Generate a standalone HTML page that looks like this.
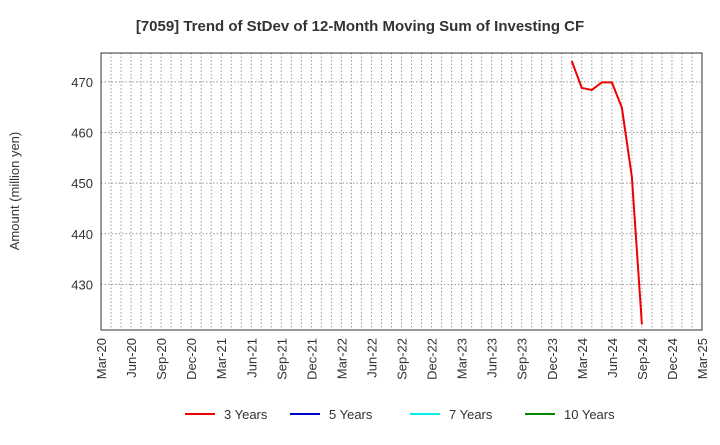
<!DOCTYPE html>
<html><head><meta charset="utf-8"><style>
body{margin:0;background:#fff;font-family:"Liberation Sans",Arial,sans-serif}
</style></head><body>
<svg width="720" height="440" xmlns="http://www.w3.org/2000/svg" style="font-family:'Liberation Sans',Arial,sans-serif">
<text x="360" y="31" text-anchor="middle" font-size="15" font-weight="bold" fill="#333">[7059]  Trend of StDev of 12-Month Moving Sum of Investing CF</text>
<text transform="translate(19,191) rotate(-90)" text-anchor="middle" font-size="13" fill="#333">Amount (million yen)</text>
<g id="grid"></g>
<g id="axes"></g>
<g id="series"></g>
<g id="legend"></g>
</svg>
<script>
const xLabels=["Mar-20","Jun-20","Sep-20","Dec-20","Mar-21","Jun-21","Sep-21","Dec-21","Mar-22","Jun-22","Sep-22","Dec-22","Mar-23","Jun-23","Sep-23","Dec-23","Mar-24","Jun-24","Sep-24","Dec-24","Mar-25"];
const yTicks=[430,440,450,460,470];
const months3=[47,48,49,50,51,52,53,54]; // month index from Mar-20
const values3=[474.1,468.8,468.4,469.9,469.9,464.9,451.2,422.1];
const legendLabels=["3 Years","5 Years","7 Years","10 Years"];
const legendColors=["#e00","#00c","#0ee","#080"];
const L=101,R=702,T=53,B=330,yMin=421.0,yMax=475.7,nMonths=60;
const NS="http://www.w3.org/2000/svg";
const xs=m=>L+(R-L)*m/nMonths;
const ys=v=>B-(B-T)*(v-yMin)/(yMax-yMin);
function mk(tag,attrs,parent,txt){const e=document.createElementNS(NS,tag);for(const k in attrs)e.setAttribute(k,attrs[k]);if(txt!==undefined)e.textContent=txt;document.getElementById(parent).appendChild(e);return e;}
for(let m=1;m<nMonths;m++){
 const g=mk('line',{x1:xs(m),x2:xs(m),y1:T,y2:B,stroke:'#999','stroke-dasharray':'1.5,2','stroke-width':1},'grid');
 
 
}
yTicks.forEach(v=>{
 const g=mk('line',{x1:L,x2:R,y1:ys(v),y2:ys(v),stroke:'#999','stroke-dasharray':'1.5,2','stroke-width':1},'grid');
 
 
 const t=mk('text',{x:L-8,y:ys(v)+5,'text-anchor':'end','font-size':13,fill:'#333'},'axes',v);
 
 
});
const fr=mk('rect',{x:L,y:T,width:R-L,height:B-T,fill:'none',stroke:'#333','stroke-width':1},'axes');


xLabels.forEach((s,i)=>{
 const x=xs(i*3);
 const t=mk('text',{transform:`translate(${x+5},${B+8}) rotate(-90)`,'text-anchor':'end','font-size':13,fill:'#333'},'axes',s);
 
 
});
const pts=months3.map((m,i)=>xs(m)+','+ys(values3[i])).join(' ');
const pl=mk('polyline',{points:pts,fill:'none',stroke:'#e00','stroke-width':2},'series');


const lx=[185,290,410,525];
legendLabels.forEach((s,i)=>{
 const l=mk('line',{x1:lx[i],x2:lx[i]+30,y1:414,y2:414,stroke:legendColors[i],'stroke-width':2},'legend');
 
 
 const t=mk('text',{x:lx[i]+39,y:419,'font-size':13,fill:'#333'},'legend',s);
 
 
});
</script>
</body></html>
